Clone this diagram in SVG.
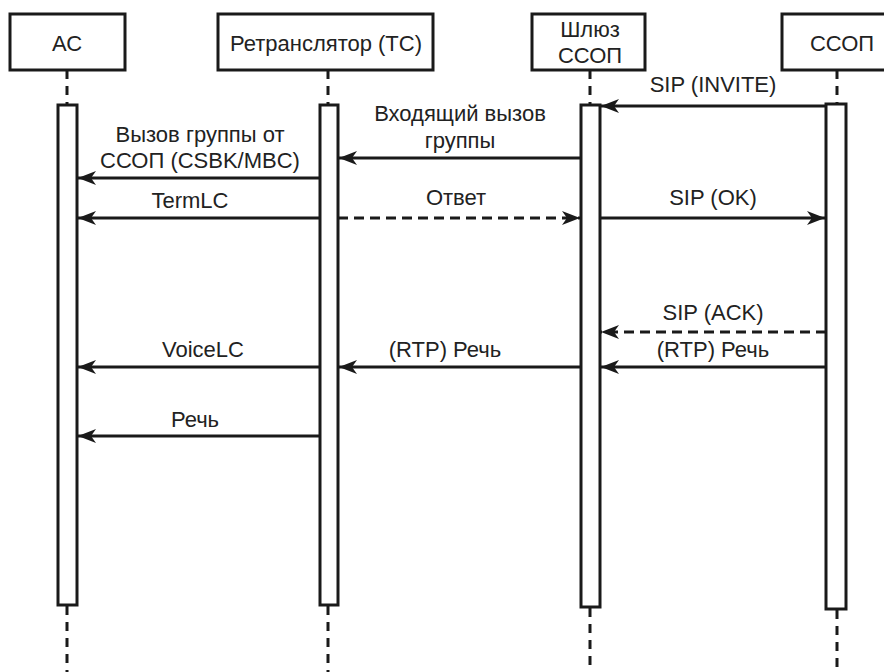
<svg xmlns="http://www.w3.org/2000/svg" width="884" height="672" viewBox="0 0 884 672">
<style>
.box{fill:#fff;stroke:#1a1a1a;stroke-width:3}
.bar{fill:#fff;stroke:#1a1a1a;stroke-width:3}
.life{stroke:#1a1a1a;stroke-width:3;stroke-dasharray:9 7;fill:none}
.msg{stroke:#1a1a1a;stroke-width:3;fill:none;marker-end:url(#ah)}
.dash{stroke-dasharray:10 6}
text{font-family:"Liberation Sans",Arial,sans-serif;font-size:22px;fill:#222;text-anchor:middle}
</style>
<defs>
<marker id="ah" markerUnits="userSpaceOnUse" markerWidth="20" markerHeight="16" refX="18" refY="7" orient="auto">
<path d="M0,0 L18,7 L0,14 L5,7 z" fill="#1a1a1a"/>
</marker>
</defs>
<rect width="884" height="672" fill="#fff"/>
<g id="lifelines">
<line class="life" x1="67" y1="70" x2="67" y2="105"/>
<line class="life" x1="67" y1="606" x2="67" y2="672"/>
<line class="life" x1="328" y1="70" x2="328" y2="105"/>
<line class="life" x1="328" y1="606" x2="328" y2="672"/>
<line class="life" x1="590" y1="70" x2="590" y2="105"/>
<line class="life" x1="590" y1="608" x2="590" y2="672"/>
<line class="life" x1="837" y1="70" x2="837" y2="104"/>
<line class="life" x1="837" y1="610" x2="837" y2="672"/>
</g>
<g id="node-ac">
<rect class="box" x="10" y="14" width="115" height="56"/>
<text x="67" y="51">АС</text>
<rect class="bar" x="58" y="105" width="19" height="500"/>
</g>
<g id="node-ts">
<rect class="box" x="218" y="14" width="215" height="56"/>
<text x="326" y="51">Ретранслятор (ТС)</text>
<rect class="bar" x="320" y="105" width="18" height="500"/>
</g>
<g id="node-gw">
<rect class="box" x="532" y="14" width="113" height="56"/>
<text x="590" y="37">Шлюз</text>
<text x="590" y="63">ССОП</text>
<rect class="bar" x="581" y="105" width="19" height="502"/>
</g>
<g id="node-pstn">
<rect class="box" x="782" y="14" width="110" height="56"/>
<text x="842" y="51">ССОП</text>
<rect class="bar" x="826" y="104" width="20" height="505"/>
</g>
<g id="connectors">
<line class="msg" x1="826" y1="106" x2="601" y2="106"/>
<line class="msg" x1="581" y1="158" x2="339" y2="158"/>
<line class="msg" x1="320" y1="178" x2="78" y2="178"/>
<line class="msg" x1="320" y1="218" x2="78" y2="218"/>
<line class="msg dash" x1="338" y1="218" x2="580" y2="218"/>
<line class="msg" x1="600" y1="218" x2="825" y2="218"/>
<line class="msg dash" x1="826" y1="332" x2="601" y2="332"/>
<line class="msg" x1="826" y1="367" x2="601" y2="367"/>
<line class="msg" x1="581" y1="367" x2="339" y2="367"/>
<line class="msg" x1="320" y1="367" x2="78" y2="367"/>
<line class="msg" x1="320" y1="436" x2="78" y2="436"/>
</g>
<g id="labels">
<text x="713" y="92">SIP (INVITE)</text>
<text x="460" y="121">Входящий вызов</text>
<text x="460" y="148">группы</text>
<text x="200" y="142">Вызов группы от</text>
<text x="200" y="168">ССОП (CSBK/MBC)</text>
<text x="190" y="208">TermLC</text>
<text x="456" y="205">Ответ</text>
<text x="713" y="205">SIP (OK)</text>
<text x="713" y="320">SIP (ACK)</text>
<text x="713" y="357">(RTP) Речь</text>
<text x="445" y="357">(RTP) Речь</text>
<text x="203" y="357">VoiceLC</text>
<text x="195" y="427">Речь</text>
</g>
</svg>
